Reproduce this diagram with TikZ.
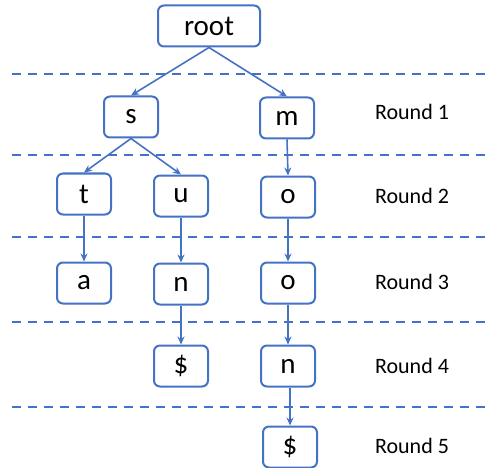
\documentclass[tikz,border=0pt]{standalone}
\usepackage{fontspec}
\setmainfont{Carlito}
\usetikzlibrary{arrows.meta}
\definecolor{obl}{HTML}{4472C4}
\begin{document}
\begin{tikzpicture}[x=1pt,y=-1pt,
  box/.style={draw=obl,line width=2pt,rounded corners=6pt,minimum width=54pt,minimum height=41pt,inner sep=0pt,font=\fontsize{29}{32}\selectfont},
  edge/.style={draw=obl,line width=1.6pt,-{Stealth[length=8pt,width=7pt]}},
  sep/.style={draw=obl,line width=2pt,dash pattern=on 9pt off 7pt},
  rlab/.style={font=\fontsize{22}{25}\selectfont}]
\useasboundingbox (0,0) rectangle (490,468);
\node[box,minimum width=102pt] (root) at (209,26) {root};
\node[box] (s) at (131,117) {s};
\node[box] (m) at (287,118) {m};
\node[box] (t) at (84,194) {t};
\node[box] (u) at (181,196) {u};
\node[box] (o1) at (288,197) {o};
\node[box] (a) at (84,283) {a};
\node[box] (n1) at (181,284) {n};
\node[box] (o2) at (288,283) {o};
\node[box] (d1) at (181,366) {\$};
\node[box] (n2) at (288,366) {n};
\node[box] (d2) at (290,447) {\$};
\draw[edge] (root.south) -- (s.north);
\draw[edge] (root.south) -- (m.north);
\draw[edge] (s.south) -- (t.north);
\draw[edge] (s.south) -- (u.north);
\draw[edge] (m.south) -- (o1.north);
\draw[edge] (t.south) -- (a.north);
\draw[edge] (u.south) -- (n1.north);
\draw[edge] (o1.south) -- (o2.north);
\draw[edge] (n1.south) -- (d1.north);
\draw[edge] (o2.south) -- (n2.north);
\draw[edge] (n2.south -| d2.north) -- (d2.north);
\coordinate (l1a) at (12,74); \coordinate (l1b) at (490,74);
\coordinate (l2a) at (12,155); \coordinate (l2b) at (490,155);
\coordinate (l3a) at (12,237); \coordinate (l3b) at (490,237);
\coordinate (l4a) at (12,322); \coordinate (l4b) at (490,322);
\coordinate (l5a) at (12,407); \coordinate (l5b) at (490,407);
\draw[sep] (l1a) -- (l1b);
\draw[sep] (l2a) -- (l2b);
\draw[sep] (l3a) -- (l3b);
\draw[sep] (l4a) -- (l4b);
\draw[sep] (l5a) -- (l5b);
\node[rlab] (r1) at (412,112) {Round 1};
\node[rlab] (r2) at (412,196) {Round 2};
\node[rlab] (r3) at (412,282) {Round 3};
\node[rlab] (r4) at (412,366) {Round 4};
\node[rlab] (r5) at (412,446) {Round 5};
\end{tikzpicture}
\end{document}
